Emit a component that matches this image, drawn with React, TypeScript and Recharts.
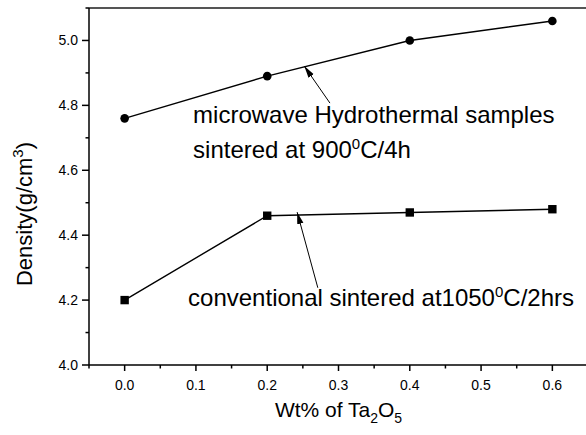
import React from 'react';
import { LineChart, Line, XAxis, YAxis, ReferenceLine, ReferenceDot } from 'recharts';

// Wt% of Ta2O5
const wtPercent = [0.0, 0.2, 0.4, 0.6];
const microwaveDensity = [4.76, 4.89, 5.0, 5.06];
const conventionalDensity = [4.2, 4.46, 4.47, 4.48];

const xTicks = [-0.05, 0, 0.05, 0.1, 0.15, 0.2, 0.25, 0.3, 0.35, 0.4, 0.45, 0.5, 0.55, 0.6, 0.65];
const yTicks = [4.0, 4.1, 4.2, 4.3, 4.4, 4.5, 4.6, 4.7, 4.8, 4.9, 5.0, 5.1];

// arrows: tail -> head, in data units
const microwaveArrow = [
  { x: 0.288, y: 4.807 },
  { x: 0.252, y: 4.921 },
];
const conventionalArrow = [
  { x: 0.271, y: 4.238 },
  { x: 0.242, y: 4.471 },
];

const microwaveData = wtPercent.map((x, i) => ({ x, y: microwaveDensity[i] }));
const conventionalData = wtPercent.map((x, i) => ({ x, y: conventionalDensity[i] }));

const FONT = '"Liberation Sans", Arial, Helvetica, sans-serif';

const isMajor = (v: number) => Math.abs(v * 10 - Math.round(v * 10)) < 1e-6;

function XTick({ x, y, payload }: any) {
  const major = isMajor(payload.value);
  return (
    <g>
      <line x1={x} y1={y} x2={x} y2={y + (major ? 6 : 3.5)} stroke="#000" strokeWidth={1.5} />
      {major && (
        <text x={x} y={y + 25} textAnchor="middle" fontSize={14} fontFamily={FONT} fill="#000">
          {payload.value.toFixed(1)}
        </text>
      )}
    </g>
  );
}

function YTick({ x, y, payload }: any) {
  const v = payload.value;
  const major = Math.abs(v * 5 - Math.round(v * 5)) < 1e-6 && v < 5.05;
  return (
    <g>
      <line x1={x} y1={y} x2={x - (major ? 7 : 3.5)} y2={y} stroke="#000" strokeWidth={1.5} />
      {major && (
        <text x={x - 11} y={y + 5} textAnchor="end" fontSize={14} fontFamily={FONT} fill="#000">
          {v.toFixed(1)}
        </text>
      )}
    </g>
  );
}

function Square({ cx, cy, index }: any) {
  return <rect key={`sq-${index}`} x={cx - 4.2} y={cy - 4.2} width={8.4} height={8.4} fill="#000" />;
}

function textLabel(lines: React.ReactNode[], lineGap: number) {
  return ({ viewBox }: any) => (
    <text x={viewBox.x} y={viewBox.y} fontSize={24} fontFamily={FONT} fill="#000">
      {lines.map((l, i) => (
        <tspan key={i} x={viewBox.x} dy={i === 0 ? 0 : lineGap}>
          {l}
        </tspan>
      ))}
    </text>
  );
}

export default function App() {
  return (
    <div style={{ position: 'absolute', left: 0, top: 0, width: 586, height: 435, overflow: 'hidden', background: '#fff' }}>
      <LineChart width={590} height={435} margin={{ top: 8, right: 2, bottom: 0, left: 0 }}>
        <defs>
          <marker id="arrowHead" viewBox="0 0 12 8" refX="12" refY="4" markerWidth="12" markerHeight="8" markerUnits="userSpaceOnUse" orient="auto">
            <path d="M0,0.8 L12,4 L0,7.2 Z" fill="#000" />
          </marker>
        </defs>
        <XAxis
          dataKey="x"
          type="number"
          domain={[-0.05, 0.65]}
          ticks={xTicks}
          interval={0}
          allowDuplicatedCategory={false}
          tickSize={0}
          tickMargin={0}
          tickLine={false}
          tick={<XTick />}
          height={70}
          stroke="#000"
          strokeWidth={1.5}
          label={{
            content: ({ viewBox }: any) => (
              <text x={viewBox.x + viewBox.width / 2} y={viewBox.y + 52} textAnchor="middle" fontSize={21} fontFamily={FONT} fill="#000">
                Wt% of Ta
                <tspan fontSize={14} dy={6}>2</tspan>
                <tspan dy={-6}>O</tspan>
                <tspan fontSize={14} dy={6}>5</tspan>
              </text>
            ),
          }}
        />
        <YAxis
          type="number"
          domain={[4.0, 5.1]}
          ticks={yTicks}
          interval={0}
          tickSize={0}
          tickMargin={0}
          tickLine={false}
          tick={<YTick />}
          width={89}
          stroke="#000"
          strokeWidth={1.5}
          label={{
            content: () => (
              <text transform="translate(32,214) rotate(-90)" textAnchor="middle" fontSize={22} fontFamily={FONT} fill="#000">
                Density(g/cm
                <tspan fontSize={15} dy={-9}>3</tspan>
                <tspan dy={9}>)</tspan>
              </text>
            ),
          }}
        />
        <ReferenceLine y={5.1} stroke="#555" strokeWidth={2} ifOverflow="visible" />
        <ReferenceLine x={0.65} stroke="#555" strokeWidth={2} ifOverflow="visible" />

        <Line data={microwaveData} dataKey="y" stroke="#000" strokeWidth={1.4} isAnimationActive={false} dot={{ r: 4.3, fill: '#000', stroke: '#000', strokeWidth: 0 }} activeDot={false} />
        <Line data={conventionalData} dataKey="y" stroke="#000" strokeWidth={1.4} isAnimationActive={false} dot={<Square />} activeDot={false} />

        <Line data={microwaveArrow} dataKey="y" stroke="#000" strokeWidth={1} isAnimationActive={false} dot={false} activeDot={false} markerEnd="url(#arrowHead)" />
        <Line data={conventionalArrow} dataKey="y" stroke="#000" strokeWidth={1} isAnimationActive={false} dot={false} activeDot={false} markerEnd="url(#arrowHead)" />

        <ReferenceDot
          x={0.096}
          y={4.745}
          r={0}
          ifOverflow="visible"
          label={textLabel(
            [
              'microwave Hydrothermal samples',
              <>
                sintered at 900
                <tspan fontSize={15} dy={-9}>0</tspan>
                <tspan dy={9}>C/4h</tspan>
              </>,
            ],
            35
          )}
        />
        <ReferenceDot
          x={0.089}
          y={4.1825}
          r={0}
          ifOverflow="visible"
          label={textLabel(
            [
              <>
                conventional sintered at1050
                <tspan fontSize={15} dy={-9}>0</tspan>
                <tspan dy={9}>C/2hrs</tspan>
              </>,
            ],
            0
          )}
        />
      </LineChart>
    </div>
  );
}
